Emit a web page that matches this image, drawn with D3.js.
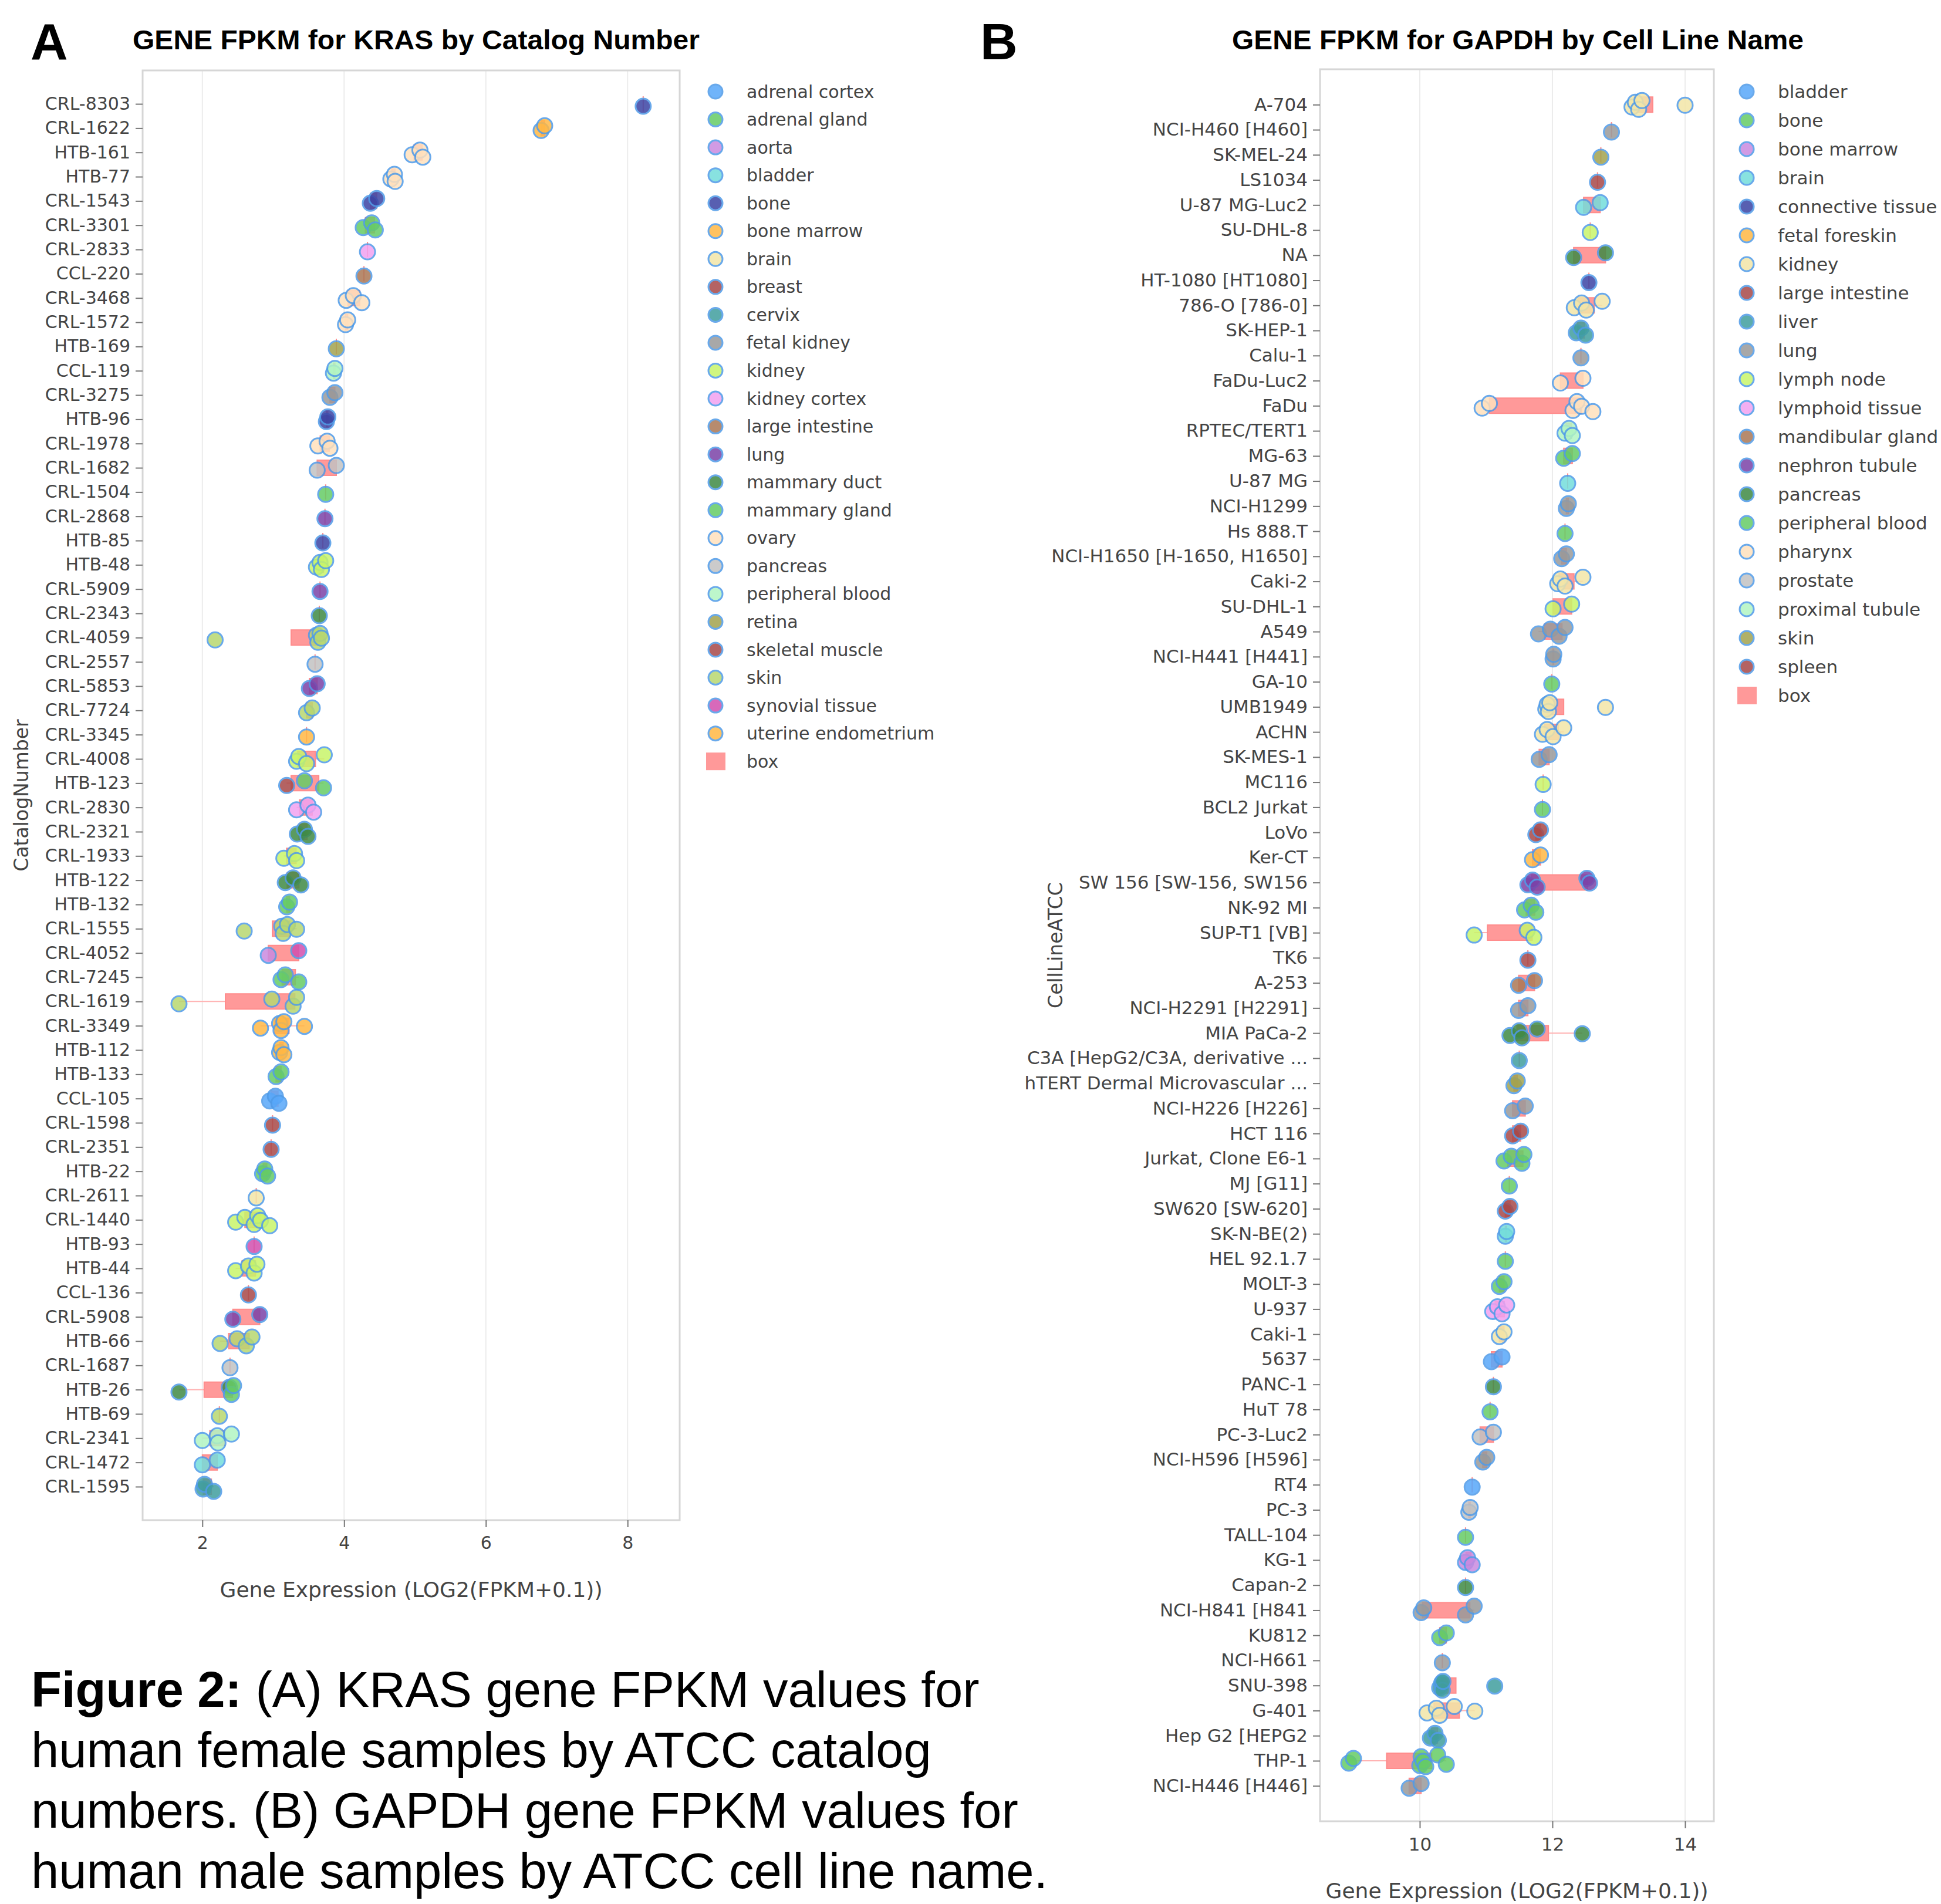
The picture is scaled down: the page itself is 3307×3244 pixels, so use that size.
<!DOCTYPE html>
<html>
<head>
<meta charset="utf-8">
<script src="https://cdn.jsdelivr.net/npm/d3@7"></script>
<style>
  body { margin: 0; background: #fff; }
</style>
</head>
<body>
<div id="chart"></div>
<script>
// ---- Panel A data: KRAS by catalog number ----
var catalogNumbers = ["CRL-8303","CRL-1622","HTB-161","HTB-77","CRL-1543","CRL-3301","CRL-2833","CCL-220",
  "CRL-3468","CRL-1572","HTB-169","CCL-119","CRL-3275","HTB-96","CRL-1978","CRL-1682","CRL-1504","CRL-2868",
  "HTB-85","HTB-48","CRL-5909","CRL-2343","CRL-4059","CRL-2557","CRL-5853","CRL-7724","CRL-3345","CRL-4008",
  "HTB-123","CRL-2830","CRL-2321","CRL-1933","HTB-122","HTB-132","CRL-1555","CRL-4052","CRL-7245","CRL-1619",
  "CRL-3349","HTB-112","HTB-133","CCL-105","CRL-1598","CRL-2351","HTB-22","CRL-2611","CRL-1440","HTB-93",
  "HTB-44","CCL-136","CRL-5908","HTB-66","CRL-1687","HTB-26","HTB-69","CRL-2341","CRL-1472","CRL-1595"];

var krasValues = [[8.22],[6.78,6.83],[4.96,5.07,5.11],[4.66,4.71,4.72],[4.37,4.46],[4.27,4.39,4.44],[4.33],[4.28],
  [4.03,4.13,4.25],[4.02,4.05],[3.89],[3.85,3.87],[3.80,3.87],[3.75,3.77],[3.63,3.76,3.80],[3.62,3.89],[3.74],[3.73],
  [3.70],[3.61,3.66,3.68,3.74],[3.66],[3.65],[2.18,3.61,3.63,3.66,3.68],[3.59],[3.51,3.62],[3.47,3.55],[3.47],[3.33,3.36,3.47,3.72],
  [3.19,3.44,3.71],[3.33,3.49,3.57],[3.34,3.44,3.49],[3.15,3.30,3.33],[3.17,3.28,3.39],[3.19,3.23],[2.59,3.12,3.14,3.20,3.33],[2.93,3.36],[3.11,3.17,3.36],[1.67,2.98,3.28,3.33],
  [2.82,3.09,3.11,3.15,3.44],[3.09,3.11,3.15],[3.04,3.11],[2.95,3.03,3.08],[2.99],[2.97],[2.85,2.88,2.92],[2.76],[2.47,2.60,2.73,2.78,2.82,2.95],[2.73],
  [2.47,2.65,2.73,2.77],[2.65],[2.43,2.81],[2.25,2.49,2.62,2.70],[2.39],[1.67,2.38,2.41,2.44],[2.24],[2.00,2.21,2.22,2.41],[2.00,2.21],[2.01,2.03,2.16]];

var krasTissue = ["bone","uterine endometrium","ovary","ovary","bone","mammary gland","kidney cortex","large intestine",
  "ovary","ovary","retina","peripheral blood","fetal kidney","bone","ovary","pancreas","mammary gland","lung",
  "bone","kidney","lung","mammary duct","skin","pancreas","lung","skin","bone marrow","kidney",
  ["breast","mammary gland","mammary gland"],"kidney cortex","mammary duct","kidney","mammary duct","mammary gland","skin",
  ["aorta","synovial tissue"],"mammary gland","skin",
  "bone marrow","uterine endometrium","mammary gland","adrenal cortex","skeletal muscle","breast","mammary gland","brain","kidney","synovial tissue",
  "kidney","skeletal muscle","lung","skin","pancreas",["mammary duct","mammary duct","adrenal gland","mammary gland"],"skin","peripheral blood","bladder","cervix"];

var tissuesA = ["adrenal cortex","adrenal gland","aorta","bladder","bone","bone marrow","brain","breast","cervix",
  "fetal kidney","kidney","kidney cortex","large intestine","lung","mammary duct","mammary gland","ovary","pancreas",
  "peripheral blood","retina","skeletal muscle","skin","synovial tissue","uterine endometrium"];
var colorsA = ["#58a8fa","#66cc66","#c98ae0","#74dedb","#3c44a4","#ffb845","#f3e6a8","#a84848","#409e9e",
  "#9a9a9a","#c8f56a","#f2a2f0","#ab7755","#7b42a8","#3f8a45","#66cc66","#ffe1bd","#c2c2c2",
  "#b2f5c2","#a3a34e","#a84848","#b8d870","#d24fae","#ffb845"];
var ticksA = [2, 4, 6, 8];

// ---- Panel B data: GAPDH by cell line name ----
var cellLines = ["A-704","NCI-H460 [H460]","SK-MEL-24","LS1034","U-87 MG-Luc2","SU-DHL-8","NA","HT-1080 [HT1080]",
  "786-O [786-0]","SK-HEP-1","Calu-1","FaDu-Luc2","FaDu","RPTEC/TERT1","MG-63","U-87 MG","NCI-H1299","Hs 888.T",
  "NCI-H1650 [H-1650, H1650]","Caki-2","SU-DHL-1","A549","NCI-H441 [H441]","GA-10","UMB1949","ACHN","SK-MES-1",
  "MC116","BCL2 Jurkat","LoVo","Ker-CT","SW 156 [SW-156, SW156","NK-92 MI","SUP-T1 [VB]","TK6","A-253",
  "NCI-H2291 [H2291]","MIA PaCa-2","C3A [HepG2/C3A, derivative ...","hTERT Dermal Microvascular ...","NCI-H226 [H226]",
  "HCT 116","Jurkat, Clone E6-1","MJ [G11]","SW620 [SW-620]","SK-N-BE(2)","HEL 92.1.7","MOLT-3","U-937","Caki-1",
  "5637","PANC-1","HuT 78","PC-3-Luc2","NCI-H596 [H596]","RT4","PC-3","TALL-104","KG-1","Capan-2","NCI-H841 [H841",
  "KU812","NCI-H661","SNU-398","G-401","Hep G2 [HEPG2","THP-1","NCI-H446 [H446]"];

var gapdhValues = [[13.2,13.25,13.3,13.35,14.0],[12.89],[12.73],[12.68],[12.47,12.72],[12.57],[12.32,12.8],[12.55],
  [12.33,12.44,12.51,12.75],[12.36,12.43,12.5],[12.43],[12.12,12.46],[10.94,11.05,12.31,12.37,12.44,12.61],[12.19,12.25,12.30],[12.17,12.30],[12.23],[12.21,12.24],[12.19],
  [12.14,12.21],[12.08,12.12,12.19,12.46],[12.01,12.29],[11.79,11.97,12.10,12.19],[12.01,12.02],[11.99],[11.90,11.92,11.94,11.96,12.80],[11.85,11.92,12.01,12.17],[11.80,11.95],
  [11.86],[11.85],[11.75,11.82],[11.70,11.82],[11.63,11.70,11.77,12.52,12.56],[11.58,11.68,11.75],[10.82,11.62,11.72],[11.63],[11.49,11.73],
  [11.49,11.63],[11.36,11.50,11.54,11.77,12.45],[11.50],[11.42,11.47],[11.40,11.59],
  [11.40,11.52],[11.27,11.38,11.54,11.57],[11.35],[11.29,11.36],[11.29,11.31],[11.29],[11.20,11.27],[11.10,11.17,11.24,11.31],[11.20,11.27],
  [11.08,11.24],[11.11],[11.06],[10.91,11.11],[10.95,11.01],[10.79],[10.74,10.76],[10.69],[10.69,10.72,10.79],[10.69],[10.02,10.06,10.69,10.82],
  [10.30,10.40],[10.34],[10.30,10.33,10.34,10.35,11.13],[10.11,10.25,10.30,10.52,10.83],[10.16,10.23,10.28],[8.93,9.00,10.00,10.02,10.05,10.09,10.27,10.40],[9.84,10.02]];

var gapdhTissue = ["kidney","lung","skin","large intestine","brain","lymph node","pancreas","connective tissue",
  "kidney","liver","lung","pharynx","pharynx","proximal tubule","bone","brain","lung","bone",
  "lung","kidney","lymph node","lung","lung","peripheral blood","kidney","kidney","lung",
  "lymph node","peripheral blood","large intestine","fetal foreskin","nephron tubule","peripheral blood","lymph node","spleen","mandibular gland",
  "lung","pancreas","liver","skin","lung",
  "large intestine","peripheral blood","peripheral blood","large intestine","brain","peripheral blood","peripheral blood","lymphoid tissue","kidney",
  "bladder","pancreas","peripheral blood","prostate","lung","bladder","prostate","peripheral blood","bone marrow","pancreas","lung",
  "peripheral blood","lung","liver","kidney","liver","peripheral blood","lung"];

var tissuesB = ["bladder","bone","bone marrow","brain","connective tissue","fetal foreskin","kidney","large intestine",
  "liver","lung","lymph node","lymphoid tissue","mandibular gland","nephron tubule","pancreas","peripheral blood",
  "pharynx","prostate","proximal tubule","skin","spleen"];
var colorsB = ["#58a8fa","#66cc66","#c98ae0","#74dedb","#3c44a4","#ffb845","#f3e6a8","#a84848",
  "#409e9e","#9a9a9a","#c8f56a","#f2a2f0","#ab7755","#7b42a8","#3f8a45","#66cc66",
  "#ffe1bd","#c2c2c2","#b2f5c2","#a3a34e","#a84848"];
var ticksB = [10, 12, 14];

// vertical spread of points inside a row (pixels)
var jitter = [4, -4, 8, -7, 1, 10, -10, 6];

var svg = d3.select("#chart").append("svg")
  .attr("width", 3307)
  .attr("height", 3244)
  .style("background", "#fff");

// plotly style quartile interpolation
function interp(arr, n) {
  n = n * arr.length - 0.5;
  if (n < 0) return arr[0];
  if (n > arr.length - 1) return arr[arr.length - 1];
  var frac = n % 1;
  return frac * arr[Math.ceil(n)] + (1 - frac) * arr[Math.floor(n)];
}

function drawPanel(p) {
  var g = svg.append("g");
  var x = d3.scaleLinear().domain(p.xDomain).range([p.left, p.right]);
  var y = d3.scalePoint().domain(p.cats).range([p.top, p.bottom]).padding(p.pad);

  // grid lines
  g.selectAll(".grid").data(p.ticks).enter().append("line")
    .attr("x1", d => x(d)).attr("x2", d => x(d))
    .attr("y1", p.top).attr("y2", p.bottom)
    .attr("stroke", "#ececec").attr("stroke-width", 2);

  // frame
  g.append("rect")
    .attr("x", p.left).attr("y", p.top)
    .attr("width", p.right - p.left).attr("height", p.bottom - p.top)
    .attr("fill", "none").attr("stroke", "#d6d6d6").attr("stroke-width", 3);

  // y axis
  var yAxis = g.append("g")
    .attr("transform", `translate(${p.left},0)`)
    .call(d3.axisLeft(y).tickSize(12).tickPadding(9));
  yAxis.select(".domain").remove();
  yAxis.attr("font-family", "DejaVu Sans").attr("font-size", p.fs);
  yAxis.selectAll("line").attr("stroke", "#777").attr("stroke-width", 2);
  yAxis.selectAll("text").attr("fill", "#444");

  // x axis
  var xAxis = g.append("g")
    .attr("transform", `translate(0,${p.bottom})`)
    .call(d3.axisBottom(x).tickValues(p.ticks).tickSize(12).tickPadding(16).tickFormat(d3.format("d")));
  xAxis.select(".domain").remove();
  xAxis.attr("font-family", "DejaVu Sans").attr("font-size", p.fs);
  xAxis.selectAll("line").attr("stroke", "#777").attr("stroke-width", 2);
  xAxis.selectAll("text").attr("fill", "#444");

  // box stats, whiskers reach the furthest point inside 1.5 IQR
  var rows = p.cats.map(function (c, i) {
    var s = p.values[i].slice().sort(d3.ascending);
    var q1 = interp(s, 0.25), q3 = interp(s, 0.75);
    var iqr = q3 - q1;
    var inside = s.filter(v => v >= q1 - 1.5 * iqr && v <= q3 + 1.5 * iqr);
    return {
      cat: c,
      lo: d3.min(inside), hi: d3.max(inside),
      q1: q1, q3: q3
    };
  });

  // whiskers
  g.selectAll(".whisker").data(rows).enter().append("line")
    .attr("x1", d => x(d.lo)).attr("x2", d => x(d.hi))
    .attr("y1", d => y(d.cat)).attr("y2", d => y(d.cat))
    .attr("stroke", "#ffb3b3").attr("stroke-width", 2);

  // boxes
  var bh = 26;
  g.selectAll(".box").data(rows).enter().append("path")
    .attr("d", d => `M${x(d.q1)},${y(d.cat) - bh / 2}H${x(d.q3)}V${y(d.cat) + bh / 2}H${x(d.q1)}Z`)
    .attr("fill", "#ff9999").attr("stroke", "#ff8c8c").attr("stroke-width", 2);

  // points
  var pts = [];
  p.cats.forEach(function (c, i) {
    p.values[i].forEach(function (v, j) {
      var t = Array.isArray(p.tissue[i]) ? p.tissue[i][j] : p.tissue[i];
      pts.push({cat: c, v: v, j: j, color: p.colors[p.tissueNames.indexOf(t)]});
    });
  });
  g.selectAll(".pt").data(pts).enter().append("circle")
    .attr("cx", d => x(d.v))
    .attr("cy", d => y(d.cat) + jitter[d.j % jitter.length])
    .attr("r", 13)
    .attr("fill", d => d.color)
    .attr("stroke", "#4f9be8")
    .attr("stroke-width", 3)
    .attr("opacity", 0.85);

  // legend
  var leg = g.append("g").attr("font-family", "DejaVu Sans").attr("font-size", p.fs);
  p.tissueNames.forEach(function (t, i) {
    var ly = p.legY + i * p.legStep;
    leg.append("circle").attr("cx", p.legX).attr("cy", ly).attr("r", 12)
      .attr("fill", p.colors[i]).attr("stroke", "#4f9be8").attr("stroke-width", 3).attr("opacity", 0.85);
    leg.append("text").attr("x", p.legX + 53).attr("y", ly).attr("dy", "0.35em")
      .attr("fill", "#444").text(t);
  });
  var by = p.legY + p.tissueNames.length * p.legStep;
  leg.append("rect").attr("x", p.legX - 16).attr("y", by - 15).attr("width", 33).attr("height", 30).attr("fill", "#ff9999");
  leg.append("text").attr("x", p.legX + 53).attr("y", by).attr("dy", "0.35em").attr("fill", "#444").text("box");

  // axis titles
  g.append("text")
    .attr("x", (p.left + p.right) / 2).attr("y", p.bottom + 131)
    .attr("text-anchor", "middle").attr("font-family", "DejaVu Sans").attr("font-size", 36)
    .attr("fill", "#444").text("Gene Expression (LOG2(FPKM+0.1))");
  g.append("text")
    .attr("transform", `translate(${p.yTitleX},${(p.top + p.bottom) / 2}) rotate(-90)`)
    .attr("text-anchor", "middle").attr("font-family", "DejaVu Sans").attr("font-size", 33)
    .attr("fill", "#444").text(p.yTitle);

  // panel letter and title
  svg.append("text").attr("x", p.letterX).attr("y", 101)
    .attr("font-family", "Liberation Sans, Arial, sans-serif").attr("font-weight", "bold").attr("font-size", 88)
    .text(p.letter);
  svg.append("text").attr("x", p.titleX).attr("y", 84)
    .attr("text-anchor", "middle")
    .attr("font-family", "Liberation Sans, Arial, sans-serif").attr("font-weight", "bold").attr("font-size", 47)
    .attr("textLength", p.titleLen).attr("lengthAdjust", "spacingAndGlyphs")
    .text(p.title);
}

drawPanel({
  left: 243, right: 1158, top: 120, bottom: 2590,
  xDomain: [1.157, 8.735], ticks: ticksA,
  cats: catalogNumbers, values: krasValues, tissue: krasTissue,
  tissueNames: tissuesA, colors: colorsA, pad: 1.38, fs: 30,
  legX: 1219, legY: 156, legStep: 47.55,
  yTitle: "CatalogNumber", yTitleX: 48,
  letter: "A", letterX: 52,
  title: "GENE FPKM for KRAS by Catalog Number", titleX: 709, titleLen: 966
});

drawPanel({
  left: 2249, right: 2920, top: 118, bottom: 3103,
  xDomain: [8.496, 14.434], ticks: ticksB,
  cats: cellLines, values: gapdhValues, tissue: gapdhTissue,
  tissueNames: tissuesB, colors: colorsB, pad: 1.41, fs: 31,
  legX: 2976, legY: 156, legStep: 49,
  yTitle: "CellLineATCC", yTitleX: 1810,
  letter: "B", letterX: 1670,
  title: "GENE FPKM for GAPDH by Cell Line Name", titleX: 2586, titleLen: 974
});

// caption
var caption = [
  ["Figure 2:", " (A) KRAS gene FPKM values for"],
  ["", "human female samples by ATCC catalog"],
  ["", "numbers. (B) GAPDH gene FPKM values for"],
  ["", "human male samples by ATCC cell line name."]
];
caption.forEach(function (line, i) {
  var t = svg.append("text")
    .attr("x", 53).attr("y", 2908 + i * 103)
    .attr("font-family", "Liberation Sans, Arial, sans-serif").attr("font-size", 85);
  if (line[0]) t.append("tspan").attr("font-weight", "bold").text(line[0]);
  t.append("tspan").text(line[1]);
});
</script>
</body>
</html>
